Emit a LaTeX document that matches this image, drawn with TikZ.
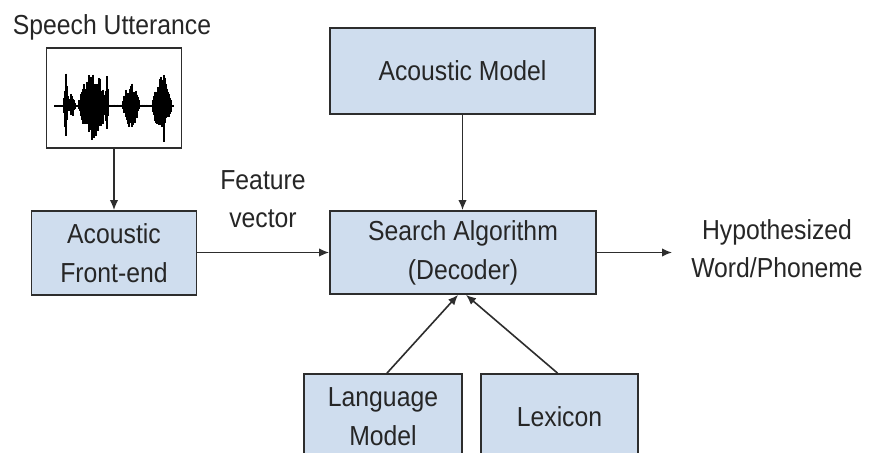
\documentclass[tikz,border=0pt]{standalone}
\usepackage{fontspec}
\setmainfont{Liberation Sans}[FakeStretch=0.9]
\usetikzlibrary{arrows.meta}
\definecolor{boxblue}{RGB}{207,221,238}
\definecolor{edgegray}{RGB}{45,45,45}

\begin{document}
\begin{tikzpicture}
[
    x=1pt, y=-1pt,
    box/.style={draw=edgegray, fill=boxblue, line width=1.8pt, inner sep=0pt, align=center, text=black!85, font=\fontsize{27.5}{39}\selectfont},
    caption/.style={align=center, text=black!85, font=\fontsize{27.5}{38}\selectfont},
    link/.style={draw=edgegray, line width=1.6pt, -{Latex[length=10pt,width=8.5pt]}},
]
\fill [white] (0,0) rectangle (869,452);
\useasboundingbox (0,0) rectangle (869,452);
\clip (0,0) rectangle (869,452);

\node [caption] (utter) at (112,27) {Speech Utterance};
\node [draw=edgegray, line width=1.8pt, minimum width=135pt, minimum height=100pt, inner sep=0pt] (wave) at (114,98) {};
% the waveform
\pgfmathsetseed{11}
\foreach \t in {55,...,173} {
    \pgfmathsetmacro\amp{min(40, 1.5
        + 36*max(0,1-((\t-93)/15)^2)
        + 24*max(0,1-((\t-131)/9)^2)
        + 28*max(0,1-((\t-162)/10)^2)
        + 42*max(0,1-abs(\t-66)/2.5)
        + 32*max(0,1-abs(\t-107)/2)
        + 12*max(0,1-abs(\t-164)/2)
        + 16*max(0,1-abs(\t-72)/4))}
    \pgfmathsetmacro\up{\amp*(0.45+0.55*rnd)}
    \pgfmathsetmacro\dn{\amp*(0.4+0.55*rnd)}
    \draw [line width=1.4pt] (\t,106-\up) -- (\t,106+\dn);
}

\node [box, minimum width=165pt, minimum height=84pt] (frontend) at (114,253) {Acoustic\\Front-end};
\node [box, minimum width=265pt, minimum height=86pt] (acmodel) at (462.5,71) {Acoustic Model};
\node [box, minimum width=266pt, minimum height=83pt] (search) at (463,252.5) {Search Algorithm\\(Decoder)};
\node [box, minimum width=158pt, minimum height=86pt] (langmodel) at (383,417) {Language\\Model};
\node [box, minimum width=157pt, minimum height=86pt] (lexicon) at (559.5,417) {Lexicon};

\node [caption] (feature) at (263,199) {Feature\\vector};
\node [caption] (hypo) at (777,249) {Hypothesized\\Word/Phoneme};
\coordinate (out) at (672,252.5);

\draw [link] (wave) -- (frontend);
\draw [link] (acmodel.south) -- (acmodel.south |- search.north);
\draw [link] (frontend.east |- search.west) -- (search.west);
\draw [link] (search.east) -- (out);
\draw [link] ([xshift=4pt]langmodel.north) -- ([xshift=-5pt]search.south);
\draw [link] ([xshift=-2pt]lexicon.north) -- ([xshift=3pt]search.south);
\end{tikzpicture}
\end{document}
